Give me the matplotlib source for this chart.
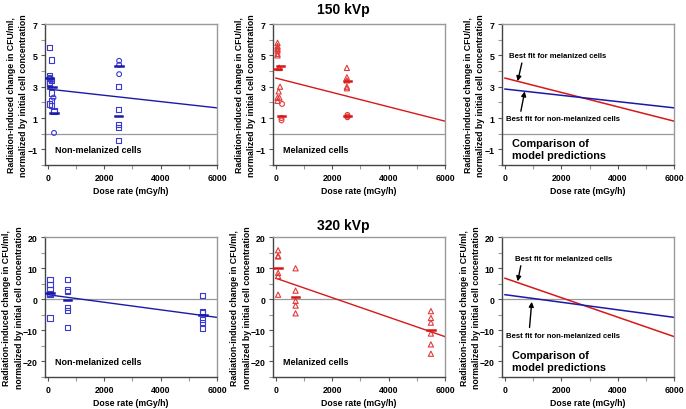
import matplotlib
matplotlib.use('Agg')
import matplotlib.pyplot as plt
import numpy as np

plt.rcParams['font.family'] = ['Liberation Sans', 'DejaVu Sans']
plt.rcParams['font.weight'] = 'bold'

BLUE = '#3a3ad0'
BLUE_D = '#1a1aa8'
RED = '#e23a3a'
RED_D = '#d81818'

# ---- 150 kVp, non-melanized ----
nm150_sq_x = [50, 50, 50, 50, 50, 50, 50, 130, 130, 130, 130, 130, 220, 220,
              2500, 2500, 2500, 2500, 2500]
nm150_sq_y = [5.5, 3.7, 3.6, 3.5, 3.3, 3.2, 1.9, 4.7, 3.4, 2.6, 2.1, 1.8, 1.5, 1.4,
              3.0, 1.55, 0.6, 0.4, -0.45]
nm150_ci_x = [130, 200, 220, 2530, 2530, 2530]
nm150_ci_y = [3.4, 2.3, 0.05, 4.65, 4.4, 3.8]
nm150_mean_x = [50, 150, 220, 2530, 2500]
nm150_mean_y = [3.55, 3.0, 1.35, 4.3, 1.1]
nm150_fit = [2.85, 1.65]

# ---- 150 kVp, melanized ----
m150_tri_x = [60, 60, 60, 60, 60, 60, 60, 120, 120, 120, 150, 100, 60, 130, 60,
              2520, 2520, 2520, 2520, 2520]
m150_tri_y = [5.8, 5.6, 5.5, 5.4, 5.3, 5.1, 5.0, 4.2, 4.2, 4.2, 3.0, 2.7, 2.3, 2.3, 2.1,
              4.2, 3.6, 3.4, 3.0, 2.9]
m150_ci_x = [220, 200, 200, 2540, 2540, 2540]
m150_ci_y = [1.9, 1.0, 0.85, 1.2, 1.1, 1.05]
m150_mean_x = [60, 160, 190, 2530, 2530]
m150_mean_y = [4.1, 4.35, 1.1, 3.35, 1.1]
m150_fit = [3.55, 0.8]

# ---- 320 kVp, non-melanized ----
nm320_x = [80, 80, 80, 80, 80, 80, 700, 700, 700, 700, 700, 700,
           5500, 5500, 5500, 5500, 5500, 5500]
nm320_y = [6.5, 4.8, 3.0, 2.0, 1.5, -6.0, 6.3, 3.0, 2.5, -2.5, -3.5, -9.0,
           1.2, -3.8, -4.2, -6.5, -7.5, -9.3]
nm320_mean_x = [80, 700, 5500]
nm320_mean_y = [2.2, -0.3, -5.0]
nm320_fit = [1.5, -5.8]

# ---- 320 kVp, melanized ----
m320_x = [80, 80, 80, 80, 80, 80, 700, 700, 700, 700, 700,
          5500, 5500, 5500, 5500, 5500, 5500]
m320_y = [15.8, 14.0, 13.8, 8.5, 7.5, 1.5, 10.0, 2.8, -0.5, -2.0, -4.5,
          -3.8, -6.0, -7.5, -11.0, -14.5, -17.5]
m320_mean_x = [80, 700, 5500]
m320_mean_y = [10.2, 0.8, -10.0]
m320_fit = [6.8, -12.0]

fit_x = [0, 6000]
ylabel = 'Radiation-induced change in CFU/ml,\nnormalized by initial cell concentration'

fig = plt.figure(figsize=(6.86, 4.10), dpi=100)

lefts = [0.0656, 0.398, 0.732]
W = 0.2507
rows = [(0.595, 0.344), (0.078, 0.341)]

FS = 6.3


def style(ax, ylim, major, minor, lab_x):
    ax.set_xlim(-100, 6000)
    ax.set_ylim(*ylim)
    ax.set_xticks([0, 2000, 4000, 6000])
    ax.set_xticks([1000, 3000, 5000], minor=True)
    ax.set_yticks(major)
    ax.set_yticks(minor, minor=True)
    ax.tick_params(labelsize=FS, length=3, width=0.8, color='#555', pad=2.5)
    ax.tick_params(which='minor', length=3, width=0.8, color='#999')
    for lab in ax.get_xticklabels() + ax.get_yticklabels():
        lab.set_fontweight('bold')
    for s in ['left', 'bottom']:
        ax.spines[s].set_color('#444')
        ax.spines[s].set_linewidth(1.0)
    for s in ['top', 'right']:
        ax.spines[s].set_color('#999')
        ax.spines[s].set_linewidth(1.0)
    ax.axhline(0, color='#999', lw=0.9, zorder=1)
    ax.set_xlabel('Dose rate (mGy/h)', fontsize=FS, fontweight='bold', labelpad=3)
    ax.set_ylabel(ylabel, fontsize=FS, fontweight='bold', linespacing=1.45)
    ax.yaxis.set_label_coords(lab_x, 0.5)


def means(ax, xs, ys, color):
    for x, y in zip(xs, ys):
        ax.plot([x - 130, x + 130], [y, y], color=color, lw=1.8, zorder=4)


top = (-2, 7)
top_major = [-1, 1, 3, 5, 7]
top_minor = [-2, 0, 2, 4, 6]
bot = (-25, 20)
bot_major = [-20, -10, 0, 10, 20]
bot_minor = [-25, -15, -5, 5, 15]
TOPX = -0.10
BOTX = -0.125

LAB = 6.5
ANN = 5.6
CMP = 7.8

# row 1
b, h = rows[0]
ax = fig.add_axes([lefts[0], b, W, h])
style(ax, top, top_major, top_minor, TOPX)
ax.scatter(nm150_sq_x, nm150_sq_y, marker='s', s=14, facecolors='none', edgecolors=BLUE, lw=0.8, zorder=3)
ax.scatter(nm150_ci_x, nm150_ci_y, marker='o', s=12, facecolors='none', edgecolors=BLUE, lw=0.8, zorder=3)
means(ax, nm150_mean_x, nm150_mean_y, BLUE_D)
ax.plot(fit_x, nm150_fit, color=BLUE_D, lw=1.0, zorder=2)
ax.text(0.06, 0.09, 'Non-melanized cells', transform=ax.transAxes, fontsize=LAB, fontweight='bold')

ax = fig.add_axes([lefts[1], b, W, h])
style(ax, top, top_major, top_minor, TOPX)
ax.scatter(m150_tri_x, m150_tri_y, marker='^', s=14, facecolors='none', edgecolors=RED, lw=0.8, zorder=3)
ax.scatter(m150_ci_x, m150_ci_y, marker='o', s=12, facecolors='none', edgecolors=RED, lw=0.8, zorder=3)
means(ax, m150_mean_x, m150_mean_y, RED_D)
ax.plot(fit_x, m150_fit, color=RED_D, lw=1.0, zorder=2)
ax.text(0.06, 0.09, 'Melanized cells', transform=ax.transAxes, fontsize=LAB, fontweight='bold')

ax = fig.add_axes([lefts[2], b, W, h])
style(ax, top, top_major, top_minor, TOPX)
ax.plot(fit_x, m150_fit, color=RED_D, lw=1.1)
ax.plot(fit_x, nm150_fit, color=BLUE_D, lw=1.1)
ax.annotate('Best fit for melanized cells', xy=(450, 3.35), xytext=(150, 4.9),
            fontsize=ANN, fontweight='bold',
            arrowprops=dict(arrowstyle='-|>', color='black', lw=1, mutation_scale=7, shrinkA=1, shrinkB=0,
                            relpos=(0.14, 0)))
ax.annotate('Best fit for non-melanized cells', xy=(700, 2.7), xytext=(50, 0.85),
            fontsize=ANN, fontweight='bold',
            arrowprops=dict(arrowstyle='-|>', color='black', lw=1, mutation_scale=7, shrinkA=1, shrinkB=0,
                            relpos=(0.12, 1)))
ax.text(0.06, 0.05, 'Comparison of\nmodel predictions', transform=ax.transAxes, fontsize=CMP, fontweight='bold',
        linespacing=1.3)

fig.text(0.5, 0.975, '150 kVp', ha='center', va='center', fontsize=10, fontweight='bold')

# row 2
b, h = rows[1]
ax = fig.add_axes([lefts[0], b, W, h])
style(ax, bot, bot_major, bot_minor, BOTX)
ax.scatter(nm320_x, nm320_y, marker='s', s=14, facecolors='none', edgecolors=BLUE, lw=0.8, zorder=3)
means(ax, nm320_mean_x, nm320_mean_y, BLUE_D)
ax.plot(fit_x, nm320_fit, color=BLUE_D, lw=1.0, zorder=2)
ax.text(0.06, 0.09, 'Non-melanized cells', transform=ax.transAxes, fontsize=LAB, fontweight='bold')

ax = fig.add_axes([lefts[1], b, W, h])
style(ax, bot, bot_major, bot_minor, BOTX)
ax.scatter(m320_x, m320_y, marker='^', s=14, facecolors='none', edgecolors=RED, lw=0.8, zorder=3)
means(ax, m320_mean_x, m320_mean_y, RED_D)
ax.plot(fit_x, m320_fit, color=RED_D, lw=1.0, zorder=2)
ax.text(0.06, 0.09, 'Melanized cells', transform=ax.transAxes, fontsize=LAB, fontweight='bold')

ax = fig.add_axes([lefts[2], b, W, h])
style(ax, bot, bot_major, bot_minor, BOTX)
ax.plot(fit_x, m320_fit, color=RED_D, lw=1.1)
ax.plot(fit_x, nm320_fit, color=BLUE_D, lw=1.1)
ax.annotate('Best fit for melanized cells', xy=(450, 5.8), xytext=(350, 12.8),
            fontsize=ANN, fontweight='bold',
            arrowprops=dict(arrowstyle='-|>', color='black', lw=1, mutation_scale=7, shrinkA=1, shrinkB=0,
                            relpos=(0.07, 0)))
ax.annotate('Best fit for non-melanized cells', xy=(950, -0.8), xytext=(50, -12.0),
            fontsize=ANN, fontweight='bold',
            arrowprops=dict(arrowstyle='-|>', color='black', lw=1, mutation_scale=7, shrinkA=1, shrinkB=0,
                            relpos=(0.2, 1)))
ax.text(0.06, 0.05, 'Comparison of\nmodel predictions', transform=ax.transAxes, fontsize=CMP, fontweight='bold',
        linespacing=1.3)

fig.text(0.5, 0.448, '320 kVp', ha='center', va='center', fontsize=10, fontweight='bold')

fig.savefig('out.png', dpi=100)
